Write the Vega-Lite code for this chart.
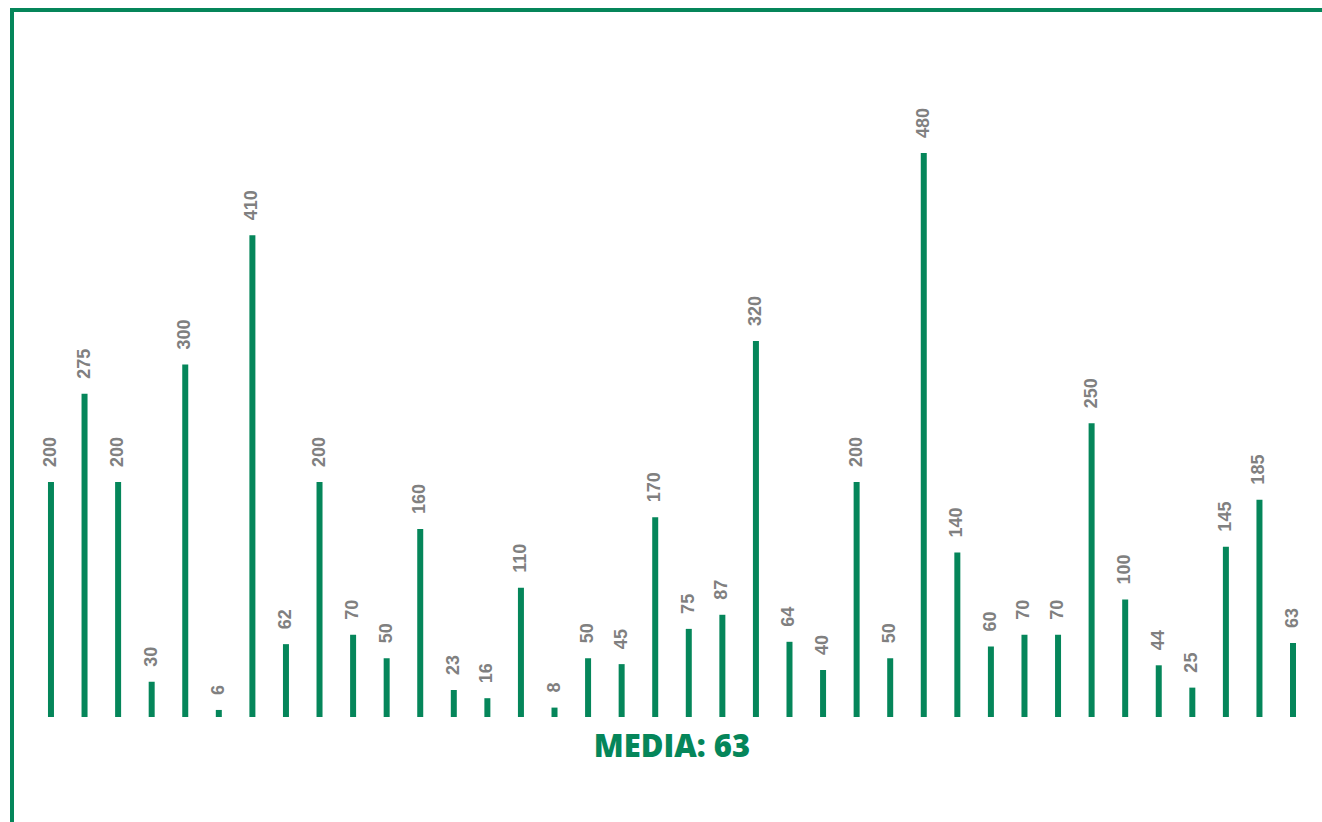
{
  "$schema": "https://vega.github.io/schema/vega-lite/v6.json",
  "autosize": "none",
  "padding": {"left": 12, "top": 10, "right": 0, "bottom": 0},
  "width": 1320,
  "height": 850,
  "background": "white",
  "config": {"view": {"stroke": "#05865a", "strokeWidth": 4}},
  "data": {"values": [
    {"i": 1, "v": 200}, {"i": 2, "v": 275}, {"i": 3, "v": 200}, {"i": 4, "v": 30},
    {"i": 5, "v": 300}, {"i": 6, "v": 6}, {"i": 7, "v": 410}, {"i": 8, "v": 62},
    {"i": 9, "v": 200}, {"i": 10, "v": 70}, {"i": 11, "v": 50}, {"i": 12, "v": 160},
    {"i": 13, "v": 23}, {"i": 14, "v": 16}, {"i": 15, "v": 110}, {"i": 16, "v": 8},
    {"i": 17, "v": 50}, {"i": 18, "v": 45}, {"i": 19, "v": 170}, {"i": 20, "v": 75},
    {"i": 21, "v": 87}, {"i": 22, "v": 320}, {"i": 23, "v": 64}, {"i": 24, "v": 40},
    {"i": 25, "v": 200}, {"i": 26, "v": 50}, {"i": 27, "v": 480}, {"i": 28, "v": 140},
    {"i": 29, "v": 60}, {"i": 30, "v": 70}, {"i": 31, "v": 70}, {"i": 32, "v": 250},
    {"i": 33, "v": 100}, {"i": 34, "v": 44}, {"i": 35, "v": 25}, {"i": 36, "v": 145},
    {"i": 37, "v": 185}, {"i": 38, "v": 63}
  ]},
  "encoding": {
    "x": {"field": "i", "type": "ordinal", "axis": null, "sort": null,
          "scale": {"paddingInner": 0, "paddingOuter": 0.661}},
    "y": {"field": "v", "type": "quantitative", "axis": null,
          "scale": {"domain": [-121.7, 601.7], "nice": false, "zero": false}}
  },
  "layer": [
    {"mark": {"type": "bar", "size": 6, "color": "#05865a"},
     "encoding": {"y2": {"datum": 0}}},
    {"mark": {"type": "text", "angle": -90, "align": "left", "baseline": "middle", "dx": 15,
              "font": "Liberation Sans", "fontWeight": "bold", "fontSize": 18, "color": "#808080"},
     "encoding": {"text": {"field": "v", "type": "quantitative"}}},
    {"data": {"values": [{"label": "MEDIA: 63", "pos": -26.4}]},
     "mark": {"type": "text", "align": "center", "baseline": "middle",
              "font": "Open Sans", "fontWeight": 800, "fontSize": 31, "color": "#05865a"},
     "encoding": {
       "x": {"value": {"expr": "width / 2"}},
       "y": {"field": "pos", "type": "quantitative"},
       "text": {"field": "label"}
     }}
  ]
}
